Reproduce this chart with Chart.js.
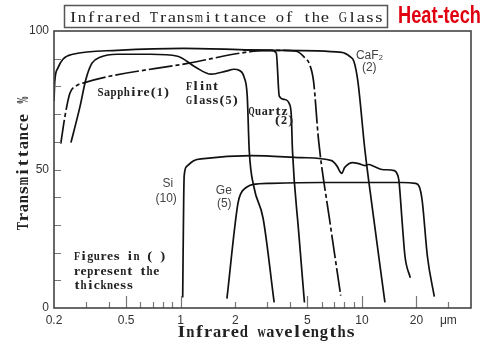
<!DOCTYPE html>
<html lang="en">
<head>
    <meta charset="UTF-8">
    <title>Infrared Transmittance of the Glass</title>
    <script src="https://cdn.jsdelivr.net/npm/chart.js"></script>
    <style>
        body { margin: 0; background: #fff; }
    </style>
</head>
<body>
    <canvas id="irChart" width="500" height="352"></canvas>
    <script>
        // Curves: wavelength (um) and transmittance (%)
        const caf2X = [0.2, 0.202, 0.21, 0.224, 0.254, 0.447, 1.04, 3.28, 7.74, 8.58, 9.03, 9.5, 10.4, 11.4, 13.4];
        const caf2Y = [74.7, 81.9, 86.6, 89.8, 91.6, 93.0, 93.7, 93.0, 92.3, 90.8, 89.1, 81.9, 56.8, 36.4, 2.0];

        const sapphireX = [0.218, 0.23, 0.245, 0.264, 0.289, 1.11, 2.54, 3.28, 4.35, 4.82, 5.14, 5.41, 5.77, 6.64, 7.64];
        const sapphireY = [59.3, 69.3, 77.6, 80.1, 81.2, 88.4, 92.7, 93.0, 92.7, 90.5, 88.0, 81.9, 60.4, 31.7, 4.5];

        const flintX = [0.248, 0.278, 0.300, 0.324, 0.359, 0.447, 0.681, 0.962, 1.21, 1.47, 1.78, 1.97, 2.10, 2.24, 2.33, 2.39, 2.54, 2.85, 3.28];
        const flintY = [59.7, 72.6, 82.6, 88.4, 90.5, 91.6, 91.6, 90.9, 86.9, 84.4, 85.5, 86.2, 85.8, 83.3, 76.5, 56.8, 43.5, 32.4, 2.0];

        const quartzX = [2.2, 3.16, 3.37, 3.50, 3.73, 3.98, 4.08, 4.14, 4.47, 4.82];
        const quartzY = [93.2, 93.0, 92.0, 76.5, 75.3, 73.7, 69.3, 56.8, 28.1, 2.0];

        const siX = [1.026, 1.039, 1.046, 1.08, 1.18, 1.34, 2.45, 4.64, 6.81, 7.26, 7.74, 8.03, 8.47, 8.9, 9.6, 10.4, 10.9, 11.7, 12.9, 15.1, 15.6, 16.0, 16.7, 17.3, 18.5];
        const siY = [3.8, 38.9, 47.8, 51.1, 53.2, 53.9, 55.0, 54.3, 53.2, 51.4, 48.6, 50.7, 52.1, 52.5, 52.1, 51.4, 51.8, 51.1, 50.0, 49.6, 48.6, 46.1, 30.6, 18.5, 10.9];

        const geX = [1.80, 2.07, 2.15, 2.30, 2.51, 3.16, 6.0, 16.7, 19.7, 20.7, 21.5, 23.0, 25.1];
        const geY = [3.4, 37.8, 41.4, 43.5, 44.6, 45.0, 45.3, 45.3, 45.0, 43.9, 38.9, 18.5, 4.1];

        // Axis ticks
        const xTickValues = [0.2, 0.3, 0.4, 0.5, 0.6, 0.7, 0.8, 0.9, 1, 2, 3, 4, 5, 6, 7, 8, 9, 10, 20, 30];
        const xTickLabels = ['0.2', '', '', '0.5', '', '', '', '', '1', '2', '', '', '5', '', '', '', '', '10', '20', 'μm'];
        const xMajorTicks = [0.5, 1, 5, 10, 20];
        const xMinorTicks = [0.3, 0.4, 0.6, 0.7, 0.8, 0.9, 2, 3, 4, 6, 7, 8, 9, 30];
        const yTickLabels = [0, 50, 100];

        // Notes placed in data units
        const monoLabels = ['Sapphire(1)', 'Flint', 'Glass(5)', 'Quartz', '(2)', 'Figures in ( )', 'represent the', 'thickness'];
        const monoLabelX = [0.346, 1.066, 1.066, 2.36, 3.28, 0.257, 0.257, 0.257];
        const monoLabelY = [77.6, 79.7, 74.7, 70.8, 67.6, 18.5, 13.1, 8.1];
        const sansLabels = ['CaF₂', '(2)', 'Si', '(10)', 'Ge', '(5)'];
        const sansLabelX = [9.27, 10.0, 0.794, 0.726, 1.564, 1.585];
        const sansLabelY = [91.2, 86.6, 45.0, 39.6, 42.5, 37.5];

        function toPoints(xs, ys) {
            return xs.map((x, i) => ({ x: x, y: ys[i] }));
        }

        // Serif glyphs laid out in fixed cells, like a mincho mono font
        function drawMono(ctx, text, x, y, cell, align) {
            const total = text.length * cell;
            const start = align === 'center' ? x - total / 2 : x;
            ctx.textAlign = 'center';
            for (let i = 0; i < text.length; i++) {
                const ch = text[i];
                if (ch === ' ') continue;
                const cx = start + cell * (i + 0.5);
                const w = ctx.measureText(ch).width;
                // widen narrow glyphs a bit, squeeze wide ones into the cell
                const sx = Math.min(1.25, (cell * 0.92) / w);
                ctx.save();
                ctx.translate(cx, y);
                ctx.scale(sx, 1);
                ctx.fillText(ch, 0, 0);
                ctx.restore();
            }
        }

        const decorPlugin = {
            id: 'decor',
            afterDraw(chart) {
                const ctx = chart.ctx;
                const area = chart.chartArea;
                const xs = chart.scales.x;
                const ys = chart.scales.y;
                ctx.save();

                // ticks pointing into the plot
                ctx.strokeStyle = '#777';
                ctx.lineWidth = 1.2;
                ctx.setLineDash([]);
                ctx.beginPath();
                xMajorTicks.forEach(v => {
                    const px = Math.round(xs.getPixelForValue(v)) + 0.5;
                    ctx.moveTo(px, area.bottom);
                    ctx.lineTo(px, area.bottom - 12);
                });
                xMinorTicks.forEach(v => {
                    const px = Math.round(xs.getPixelForValue(v)) + 0.5;
                    ctx.moveTo(px, area.bottom);
                    ctx.lineTo(px, area.bottom - 6);
                });
                for (let v = 10; v < 100; v += 10) {
                    const py = Math.round(ys.getPixelForValue(v)) + 0.5;
                    ctx.moveTo(area.left, py);
                    ctx.lineTo(area.left + 7, py);
                }
                ctx.stroke();

                // frame
                ctx.strokeStyle = '#444';
                ctx.lineWidth = 1.6;
                ctx.strokeRect(area.left, area.top, area.right - area.left, area.bottom - area.top);

                // notes
                ctx.fillStyle = '#222';
                ctx.textBaseline = 'middle';
                ctx.font = 'bold 12px "Liberation Serif"';
                monoLabels.forEach((t, i) => {
                    drawMono(ctx, t, xs.getPixelForValue(monoLabelX[i]), ys.getPixelForValue(monoLabelY[i]), 6.6, 'left');
                });
                ctx.fillStyle = '#444';
                ctx.font = '12px "Liberation Sans"';
                ctx.textAlign = 'left';
                sansLabels.forEach((t, i) => {
                    ctx.fillText(t, xs.getPixelForValue(sansLabelX[i]), ys.getPixelForValue(sansLabelY[i]));
                });

                // axis titles
                ctx.fillStyle = '#222';
                ctx.textBaseline = 'alphabetic';
                ctx.font = 'bold 16px "Liberation Serif"';
                drawMono(ctx, 'Infrared wavelengths', 266, 337, 8.9, 'center');
                ctx.save();
                ctx.translate(28, 163);
                ctx.rotate(-Math.PI / 2);
                drawMono(ctx, 'Transmittance %', 0, 0, 9, 'center');
                ctx.restore();

                // boxed title
                ctx.strokeStyle = '#555';
                ctx.lineWidth = 1.5;
                ctx.strokeRect(64.5, 5.5, 323, 22);
                ctx.fillStyle = '#222';
                ctx.font = '15px "Liberation Serif"';
                drawMono(ctx, 'Infrared Transmittance of the Glass', 226, 22, 9, 'center');

                // logo text
                ctx.fillStyle = '#e0000f';
                ctx.font = 'bold 22px "Liberation Sans"';
                ctx.textAlign = 'left';
                const w = ctx.measureText('Heat-tech').width;
                ctx.save();
                ctx.translate(398, 23);
                ctx.scale(83 / w, 1.05);
                ctx.fillText('Heat-tech', 0, 0);
                ctx.restore();

                ctx.restore();
            }
        };

        function lineSet(label, xs, ys, dash) {
            return {
                label: label,
                data: toPoints(xs, ys),
                borderColor: '#111',
                borderWidth: 1.7,
                borderDash: dash || [],
                pointRadius: 0,
                fill: false,
                cubicInterpolationMode: 'monotone'
            };
        }

        const ctx = document.getElementById('irChart').getContext('2d');
        new Chart(ctx, {
            type: 'line',
            data: {
                datasets: [
                    lineSet('CaF2', caf2X, caf2Y),
                    lineSet('Sapphire', sapphireX, sapphireY, [24, 3, 4, 3]),
                    lineSet('Flint Glass', flintX, flintY),
                    lineSet('Quartz', quartzX, quartzY),
                    lineSet('Si', siX, siY),
                    lineSet('Ge', geX, geY)
                ]
            },
            options: {
                responsive: false,
                animation: false,
                layout: { padding: { left: 0, top: 31, right: 29, bottom: 0 } },
                plugins: {
                    legend: { display: false },
                    tooltip: { enabled: false }
                },
                scales: {
                    x: {
                        type: 'logarithmic',
                        min: 0.2,
                        max: 40,
                        grid: { display: false, drawTicks: false },
                        border: { display: false },
                        afterBuildTicks: scale => {
                            scale.ticks = xTickValues.map(v => ({ value: v }));
                        },
                        afterFit: scale => { scale.height = 44; },
                        ticks: {
                            autoSkip: false,
                            maxRotation: 0,
                            padding: 5,
                            color: '#333',
                            font: { family: 'Liberation Sans', size: 12 },
                            callback: (value, index) => xTickLabels[index]
                        }
                    },
                    y: {
                        min: 0,
                        max: 100,
                        grid: { display: false, drawTicks: false },
                        border: { display: false },
                        afterFit: scale => { scale.width = 54; },
                        ticks: {
                            stepSize: 10,
                            padding: 5,
                            color: '#333',
                            font: { family: 'Liberation Sans', size: 12 },
                            callback: value => yTickLabels.includes(value) ? value : ''
                        }
                    }
                }
            },
            plugins: [decorPlugin]
        });
    </script>
</body>
</html>
